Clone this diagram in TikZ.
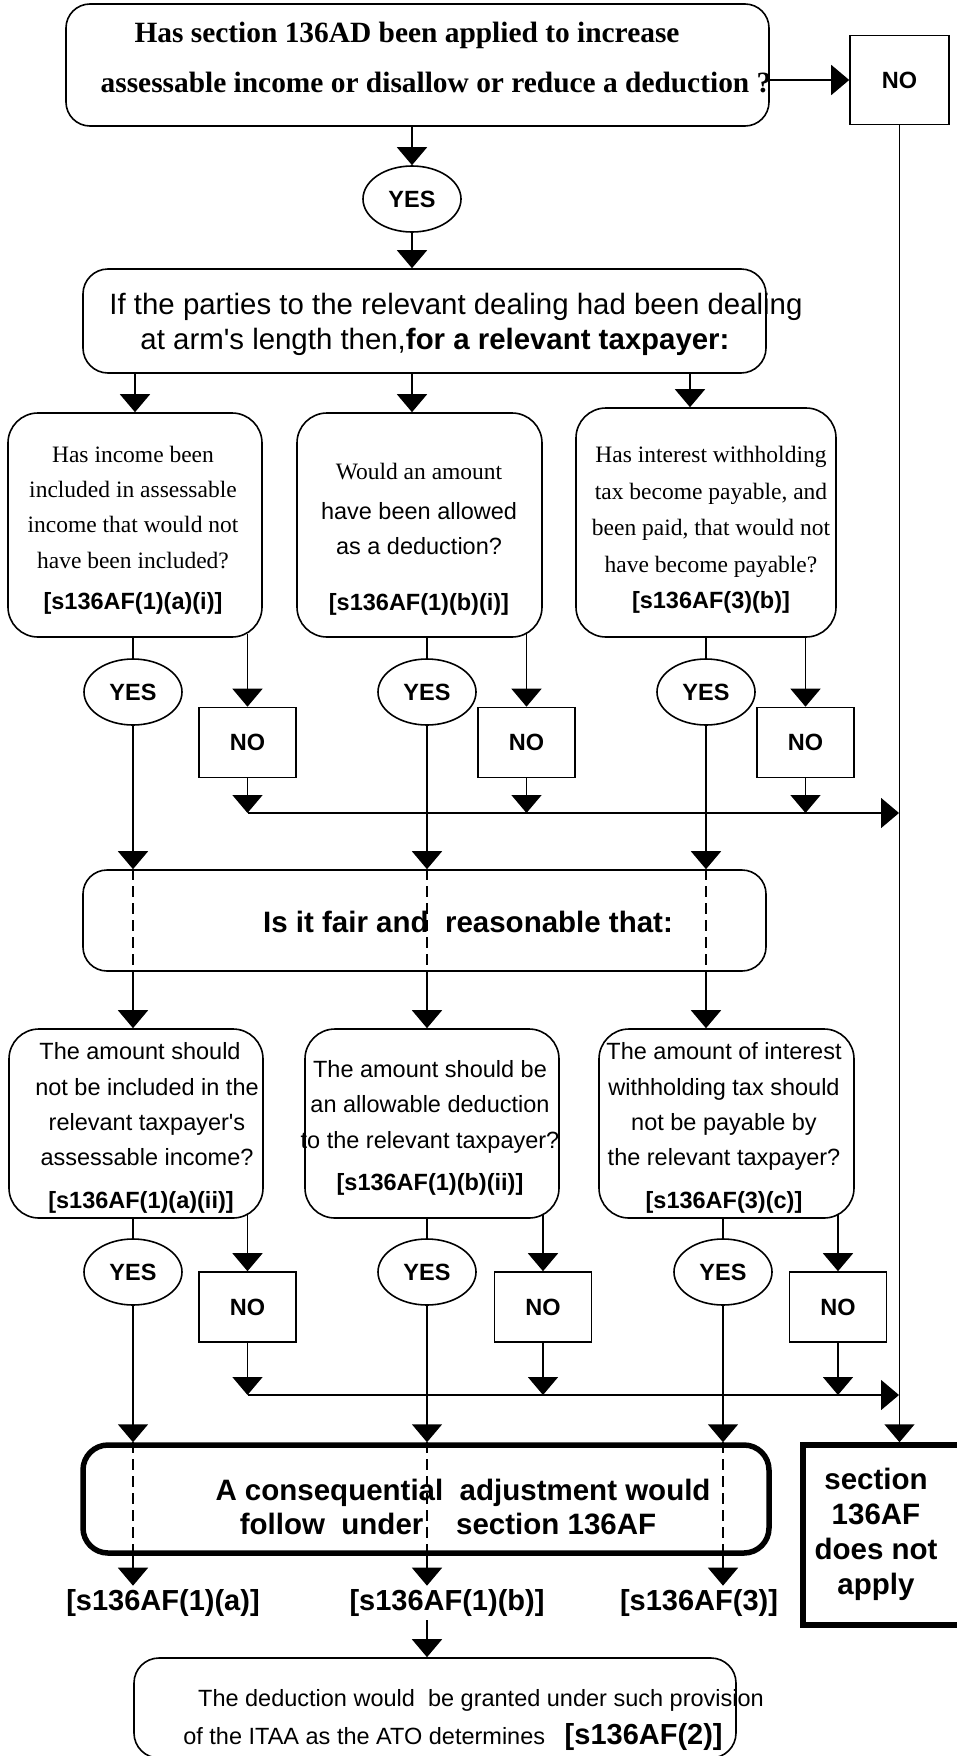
\documentclass[tikz,border=0pt]{standalone}
\usepackage{fontspec}
\setmainfont{Liberation Serif}
\setsansfont{Liberation Sans}
\usetikzlibrary{
  arrows.meta,
  calc,
  shapes.geometric,
}

\begin{document}
\begin{tikzpicture}[x=1pt,y=-1pt,
  line width=1.6pt,>={Triangle[width=30pt,length=18pt]},
  qbox/.style={draw,rounded corners=30pt,inner sep=0pt},
  adjbox/.style={draw,line width=5.5pt,rounded corners=25pt,inner sep=0pt},
  yesbub/.style={draw,ellipse,minimum width=98pt,minimum height=66pt,
    inner sep=0pt,font=\fontsize{23.5}{28}\selectfont\sffamily\bfseries},
  nobox/.style={draw,minimum width=97pt,minimum height=70pt,inner sep=0pt,
    font=\fontsize{23.5}{28}\selectfont\sffamily\bfseries},
  qtxt/.style={align=center,inner sep=0pt,
    font=\fontsize{23.5}{35.3}\selectfont},
  stxt/.style={align=center,inner sep=0pt,
    font=\fontsize{23.5}{35.3}\selectfont\sffamily},
  bigtxt/.style={align=center,inner sep=0pt,
    font=\fontsize{29.4}{35}\selectfont\sffamily},
  sect/.style={inner sep=3pt,font=\fontsize{29}{34}\selectfont\sffamily\bfseries},
  thru/.style={dash pattern=on 11pt off 6pt}]
  \fill[white] (0,0) rectangle (956,1756);
  \useasboundingbox (0,0) rectangle (956,1756);
  %% top question
  \node[qbox,rounded corners=24pt,minimum width=703pt,minimum height=122pt]
    (q0) at (417.5,65) {};
  \node[qtxt,font=\fontsize{29.4}{50}\selectfont\bfseries] (q0t) at (421.5,58)
    {Has section 136AD been applied to increase\hspace*{29pt}\\
     \hspace*{29pt}assessable income or disallow or reduce a deduction ?};
  \node[nobox,minimum width=99pt,minimum height=89pt] (no0) at (899.5,80) {NO};
  \node[yesbub] (yes0) at (412,199) {YES};
  \node[qbox,rounded corners=25pt,minimum width=683pt,minimum height=104pt]
    (q1) at (424.5,321) {};
  \node[bigtxt] (q1t) at (456,324)
    {If the parties to the relevant dealing had been dealing\\
     at arm\textquotesingle s length then,\textbf{for a relevant taxpayer:}\hspace*{42pt}};
  %%
  \node[qbox,minimum width=254pt,minimum height=224pt] (a1) at (135,525) {};
  \node[qbox,minimum width=245pt,minimum height=224pt] (b1) at (419.5,525) {};
  \node[qbox,minimum width=260pt,minimum height=229pt] (c1) at (706,522.5) {};
  \node[qtxt] (a1t) at (133,530)
    {Has income been\\included in assessable\\income that would not\\
     have been included?\\[6pt]\textsf{\bfseries [s136AF(1)(a)(i)]}};
  \node[qtxt] (b1t) at (419,539)
    {Would an amount\\[5pt]\textsf{have been allowed}\\\textsf{as a deduction?}\\[20pt]
     \textsf{\bfseries [s136AF(1)(b)(i)]}};
  \node[qtxt,font=\fontsize{23.5}{36.5}\selectfont] (c1t) at (711,530)
    {Has interest withholding\\tax become payable, and\\been paid, that would not\\
     have become payable?\\\textsf{\bfseries [s136AF(3)(b)]}};
  \node[yesbub] (ya1) at (133,692) {YES};
  \node[yesbub] (yb1) at (427,692) {YES};
  \node[yesbub] (yc1) at (706,692) {YES};
  \node[nobox] (na1) at (247.5,742.5) {NO};
  \node[nobox] (nb1) at (526.5,742.5) {NO};
  \node[nobox] (nc1) at (805.5,742.5) {NO};
  \coordinate (j1) at (899,813);
  %%
  \node[qbox,rounded corners=24pt,minimum width=683pt,minimum height=101pt]
    (fair) at (424.5,920.5) {};
  \node[bigtxt,font=\fontsize{29.5}{35}\selectfont\sffamily\bfseries]
    (fairt) at (468,922) {Is it fair and\ \ reasonable that:};
  %%
  \node[qbox,minimum width=254pt,minimum height=189pt] (a2) at (136,1123.5) {};
  \node[qbox,minimum width=254pt,minimum height=189pt] (b2) at (432,1123.5) {};
  \node[qbox,minimum width=255pt,minimum height=189pt] (c2) at (726.5,1123.5) {};
  \node[stxt] (a2t) at (147,1128)
    {The amount should\hspace*{14pt}\\not be included in the\\relevant taxpayer\textquotesingle s\\
     assessable income?\\[7pt]\bfseries [s136AF(1)(a)(ii)]\hspace*{12pt}};
  \node[stxt] (b2t) at (430,1128)
    {The amount should be\\an allowable deduction\\to the relevant taxpayer?\\[7pt]
     \bfseries [s136AF(1)(b)(ii)]};
  \node[stxt] (c2t) at (724,1128)
    {The amount of interest\\withholding tax should\\not be payable by\\
     the relevant taxpayer?\\[7pt]\bfseries [s136AF(3)(c)]};
  \node[yesbub] (ya2) at (133,1272) {YES};
  \node[yesbub] (yb2) at (427,1272) {YES};
  \node[yesbub] (yc2) at (723,1272) {YES};
  \node[nobox] (na2) at (247.5,1307) {NO};
  \node[nobox] (nb2) at (543,1307) {NO};
  \node[nobox] (nc2) at (838,1307) {NO};
  \coordinate (j2) at (899,1395);
  %%
  \node[adjbox,minimum width=686pt,minimum height=108pt] (adj) at (426,1499) {};
  \node[bigtxt,font=\fontsize{29.5}{34}\selectfont\sffamily\bfseries]
    (adjt) at (455,1507)
    {\hspace*{16pt}A consequential\ \ adjustment would\\
     follow\ \ under\ \ \ \ section 136AF\hspace*{14pt}};
  \node[adjbox,sharp corners,minimum width=170pt,minimum height=180pt]
    (dna) at (888,1535) {};
  \node[bigtxt,font=\fontsize{29.5}{35}\selectfont\sffamily\bfseries]
    (dnat) at (876,1534) {section\\136AF\\does not\\apply};
  \node[sect] (la) at (163,1603) {[s136AF(1)(a)]};
  \node[sect] (lb) at (447,1603) {[s136AF(1)(b)]};
  \node[sect] (lc) at (699,1603) {[s136AF(3)]};
  \node[qbox,rounded corners=25pt,minimum width=602pt,minimum height=100pt]
    (fin) at (435,1708) {};
  \node[stxt] (fint) at (466,1720)
    {\hspace*{30pt}The deduction would\ \ be granted under such provision\\[2pt]
     of the ITAA as the ATO determines\ \ \
     {\fontsize{29}{35}\selectfont\bfseries [s136AF(2)]}\hspace*{26pt}};
  %% top part
  \draw[->] (q0.east |- no0.west) -- (no0.west);
  \draw[->] (no0.south) -- (no0 |- dna.north);
  \draw[->] (yes0 |- q0.south) -- (yes0.north);
  \draw[->] (yes0.south) -- (yes0 |- q1.north);
  \draw[->] (a1 |- q1.south) -- (a1.north);
  \draw[->] (yes0 |- q1.south) -- (yes0 |- b1.north);
  \draw[->] ($(c1 |- q1.south)+(-16,0)$) -- ($(c1.north)+(-16,0)$);
  %% first answers
  \draw (ya1 |- a1.south) -- (ya1.north);
  \draw (yb1 |- b1.south) -- (yb1.north);
  \draw (yc1 |- c1.south) -- (yc1.north);
  \draw[->] ($(na1 |- a1.south)+(0,-4)$) -- (na1.north);
  \draw[->] ($(nb1 |- b1.south)+(0,-4)$) -- (nb1.north);
  \draw[->] (nc1 |- c1.south) -- (nc1.north);
  \draw[->] (na1.south) -- (na1 |- j1);
  \draw[->] (nb1.south) -- (nb1 |- j1);
  \draw[->] (nc1.south) -- (nc1 |- j1);
  \draw[->] (na1 |- j1) -- (j1);
  \draw[->] (ya1.south) -- (ya1 |- fair.north);
  \draw[->] (yb1.south) -- (yb1 |- fair.north);
  \draw[->] (yc1.south) -- (yc1 |- fair.north);
  \draw[thru] (ya1 |- fair.north) -- (ya1 |- fair.south);
  \draw[thru] (yb1 |- fair.north) -- (yb1 |- fair.south);
  \draw[thru] (yc1 |- fair.north) -- (yc1 |- fair.south);
  \draw[->] (ya1 |- fair.south) -- (ya1 |- a2.north);
  \draw[->] (yb1 |- fair.south) -- (yb1 |- b2.north);
  \draw[->] (yc1 |- fair.south) -- (yc1 |- c2.north);
  %% second answers
  \draw (ya2 |- a2.south) -- (ya2.north);
  \draw (yb2 |- b2.south) -- (yb2.north);
  \draw (yc2 |- c2.south) -- (yc2.north);
  \draw[->] ($(na2 |- a2.south)+(0,-4)$) -- (na2.north);
  \draw[->] ($(nb2 |- b2.south)+(0,-4)$) -- (nb2.north);
  \draw[->] ($(nc2 |- c2.south)+(0,-4)$) -- (nc2.north);
  \draw[->] (na2.south) -- (na2 |- j2);
  \draw[->] (nb2.south) -- (nb2 |- j2);
  \draw[->] (nc2.south) -- (nc2 |- j2);
  \draw[->] (na2 |- j2) -- (j2);
  \draw[->] (ya2.south) -- (ya2 |- adj.north);
  \draw[->] (yb2.south) -- (yb2 |- adj.north);
  \draw[->] (yc2.south) -- (yc2 |- adj.north);
  \draw[thru] (ya2 |- adj.north) -- (ya2 |- adj.south);
  \draw[thru] (yb2 |- adj.north) -- (yb2 |- adj.south);
  \draw[thru] (yc2 |- adj.north) -- (yc2 |- adj.south);
  \draw[->] (ya2 |- adj.south) -- (ya2 |- la.north);
  \draw[->] (yb2 |- adj.south) -- (yb2 |- lb.north);
  \draw[->] (yc2 |- adj.south) -- (yc2 |- lc.north);
  \draw[->] (yb2 |- lb.south) -- (yb2 |- fin.north);
\end{tikzpicture}
\end{document}
